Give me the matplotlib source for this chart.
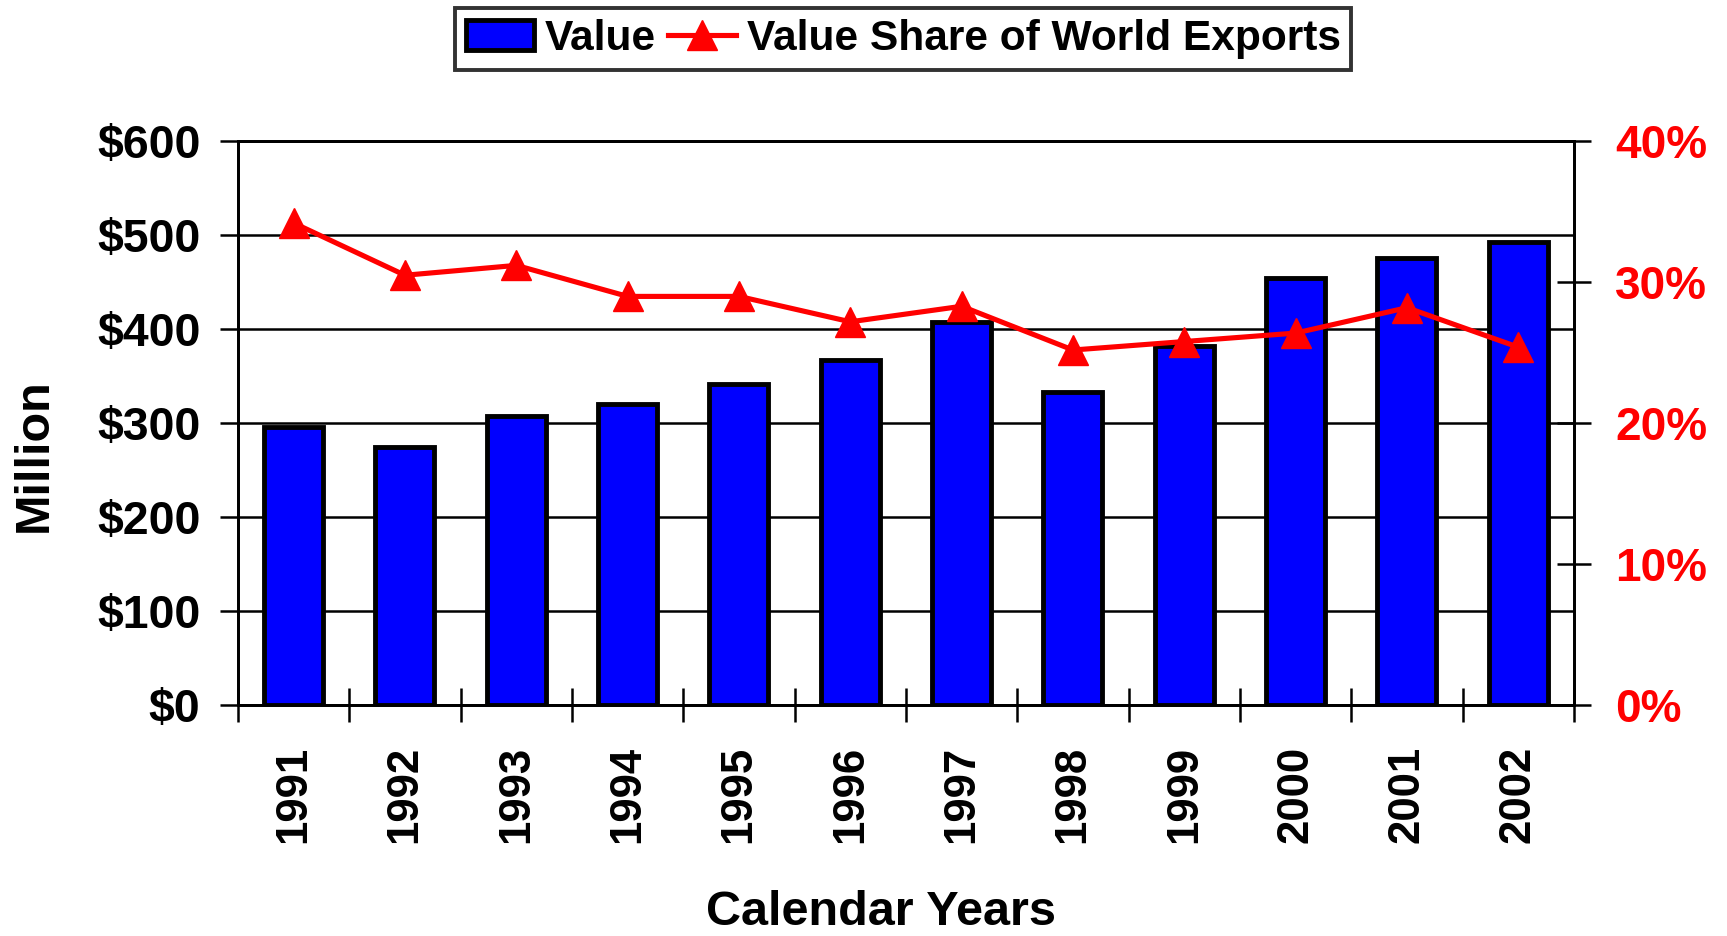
import matplotlib
matplotlib.use("Agg")
import matplotlib.pyplot as plt
import numpy as np

years = ["1991", "1992", "1993", "1994", "1995", "1996", "1997", "1998", "1999", "2000", "2001", "2002"]
value_million = [296, 275, 308, 321, 342, 367, 408, 333, 382, 455, 476, 493]
share_pct = [34.2, 30.5, 31.2, 29.0, 29.0, 27.2, 28.3, 25.2, 25.8, 26.4, 28.2, 25.4]
left_ticks = [0, 100, 200, 300, 400, 500, 600]
left_labels = ["$0", "$100", "$200", "$300", "$400", "$500", "$600"]
right_ticks = [0, 10, 20, 30, 40]
right_labels = ["0%", "10%", "20%", "30%", "40%"]

plt.rcParams['font.family'] = ['Liberation Sans', 'DejaVu Sans']
plt.rcParams['font.weight'] = 'bold'

fig = plt.figure(figsize=(17.27, 9.36), dpi=100)
ax = fig.add_axes([0.1378, 0.2463, 0.9114 - 0.1378, 0.8491 - 0.2463])

x = np.arange(len(years))
bars = ax.bar(x, value_million, width=0.53, color="#0000FF", edgecolor="black",
              linewidth=3.5, label="Value", zorder=2)
ax.set_xlim(-0.5, len(years) - 0.5)
ax.set_ylim(0, 600)
ax.set_yticks(left_ticks)
ax.set_yticklabels(left_labels, fontsize=33.5, fontweight='bold')
ax.yaxis.grid(True, color="black", linewidth=1.8)
ax.set_axisbelow(True)

ax.set_xticks(x)
ax.set_xticklabels(years, rotation=90, fontsize=31.5, fontweight='bold', va='top', ha='center')
ax.set_xticks(np.arange(-0.5, len(years), 1.0), minor=True)
ax.tick_params(axis='x', which='major', length=0, pad=29)
ax.tick_params(axis='x', which='minor', direction='inout', length=25, width=1.8)
ax.tick_params(axis='y', direction='out', length=13, width=1.8, pad=14)

for s in ["left", "bottom", "top", "right"]:
    ax.spines[s].set_linewidth(2.0)
    ax.spines[s].set_color("black")

ax.set_ylabel("Million", fontsize=35, fontweight='bold')
ax.yaxis.set_label_coords(-0.1355, 0.444)
ax.set_xlabel("Calendar Years", fontsize=35, fontweight='bold')
ax.xaxis.set_label_coords(0.481, -0.327)

ax2 = ax.twinx()
line, = ax2.plot(x, share_pct, color="#FF0000", linewidth=3.7, marker="^",
                 markersize=22, markeredgecolor="#FF0000", label="Value Share of World Exports")
ax2.set_ylim(0, 40)
ax2.set_yticks(right_ticks)
ax2.set_yticklabels(right_labels, fontsize=33, fontweight='bold', color="#FF0000")
ax2.tick_params(axis='y', direction='inout', length=25, width=1.8, pad=17)
for s in ["left", "bottom", "top", "right"]:
    ax2.spines[s].set_linewidth(2.0)

leg = fig.legend(handles=[bars, line], labels=["Value", "Value Share of World Exports"],
                 loc="upper center", bbox_to_anchor=(0.523, 0.991), ncol=2,
                 frameon=True, fancybox=False, handlelength=1.6,
                 handletextpad=0.25, columnspacing=0.3, borderpad=0.25, borderaxespad=0,
                 prop={'weight': 'bold', 'size': 30.6})
leg.get_frame().set_edgecolor("black")
leg.get_frame().set_linewidth(2.8)

fig.savefig("out.png", dpi=100)
